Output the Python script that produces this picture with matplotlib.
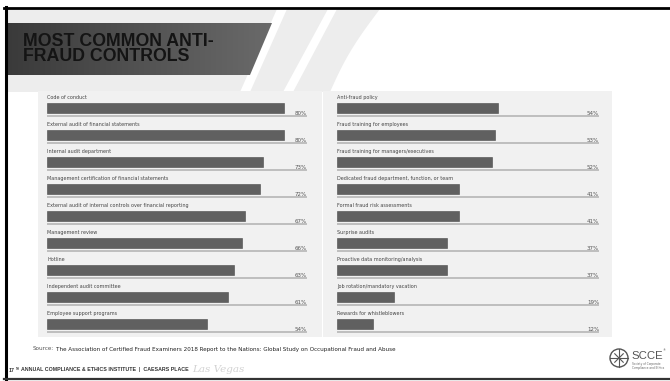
import numpy as np
import matplotlib.pyplot as plt
from matplotlib.patches import Rectangle, Polygon, Circle
from matplotlib.colors import LinearSegmentedColormap

# data
left_labels = ["Code of conduct",
               "External audit of financial statements",
               "Internal audit department",
               "Management certification of financial statements",
               "External audit of internal controls over financial reporting",
               "Management review",
               "Hotline",
               "Independent audit committee",
               "Employee support programs"]
left_values = [80, 80, 73, 72, 67, 66, 63, 61, 54]

right_labels = ["Anti-fraud policy",
                "Fraud training for employees",
                "Fraud training for managers/executives",
                "Dedicated fraud department, function, or team",
                "Formal fraud risk assessments",
                "Surprise audits",
                "Proactive data monitoring/analysis",
                "Job rotation/mandatory vacation",
                "Rewards for whistleblowers"]
right_values = [54, 53, 52, 41, 41, 37, 37, 19, 12]

title = "MOST COMMON ANTI-\nFRAUD CONTROLS"
source = ("The Association of Certified Fraud Examiners 2018 Report to the Nations: "
          "Global Study on Occupational Fraud and Abuse")

W, H = 670, 381
narrow = ['Liberation Sans Narrow', 'DejaVu Sans']
sans = ['Liberation Sans', 'DejaVu Sans']

fig = plt.figure(figsize=(W / 100, H / 100), dpi=100)
fig.patch.set_facecolor('white')

# background layer in pixel coordinates
bg = fig.add_axes([0, 0, 1, 1])
bg.set_xlim(0, W)
bg.set_ylim(H, 0)
bg.axis('off')

# light gray top area bounded by a curve on the right
t = np.linspace(0, 1, 30)
curve = [(380 - 50 * s - 4 * np.sin(np.pi * s), 9 + 83 * s) for s in t]
bg.add_patch(Polygon([(6, 9)] + curve + [(6, 92)], closed=True, color='#ededed', lw=0))
# white swooshes
for top, bot in [((277, 287), (240, 250)), ((328, 337), (283, 293))]:
    bg.add_patch(Polygon([(top[0], 9), (top[1], 9), (bot[1], 92), (bot[0], 92)],
                         closed=True, color='white', lw=0))

# title banner with a horizontal gradient
banner = Polygon([(6, 23), (272, 23), (250, 75), (6, 75)], closed=True,
                 facecolor='none', edgecolor='none')
bg.add_patch(banner)
cmap = LinearSegmentedColormap.from_list('banner', ['#3a3a3a', '#6a6a6a'])
grad = np.linspace(0, 1, 256).reshape(1, -1)
im = bg.imshow(grad, extent=(6, 272, 75, 23), cmap=cmap, aspect='auto', zorder=2)
im.set_clip_path(banner)
bg.text(23, 49, title, fontsize=12.8, fontweight='bold', color='#141414',
        family=sans, va='center', ha='left', linespacing=0.85, zorder=3)

# panel boxes
bg.add_patch(Rectangle((38, 91), 284, 246, color='#f1f1f1', lw=0))
bg.add_patch(Rectangle((323, 91), 289, 246, color='#f1f1f1', lw=0))

# source and footer
bg.text(33, 349, "Source:", fontsize=4.1, color='#555555', family=narrow, va='center')
bg.text(56, 349, source, fontsize=4.1, color='#222222', family=narrow, va='center')
bg.text(9, 370, "17", fontsize=3.8, fontweight='bold', color='#333333',
        family=sans, va='center')
bg.text(15.5, 368.6, "TH", fontsize=2.1, fontweight='bold', color='#333333',
        family=sans, va='center')
bg.text(21, 370, "ANNUAL COMPLIANCE & ETHICS INSTITUTE  |  CAESARS PLACE",
        fontsize=3.8, fontweight='bold', color='#333333', family=sans, va='center')
bg.text(192, 370, "Las Vegas", fontsize=7.5, style='italic', color='#d2d2d2',
        family=['DejaVu Serif'], va='center')

# logo
bg.add_patch(Circle((619, 358), 9, facecolor='white', edgecolor='#555555', lw=1))
for a in np.arange(0, 360, 45):
    r = 9 if a % 90 == 0 else 6
    ang = np.deg2rad(a)
    bg.plot([619, 619 + r * np.cos(ang)], [358, 358 + r * np.sin(ang)],
            color='#555555', lw=0.8)
bg.text(631, 356, "SCCE", fontsize=8.2, color='#555555', family=sans, va='center')
bg.text(663, 350, "\u00ae", fontsize=2.2, color='#555555', va='center')
bg.text(632, 366.5, "Society of Corporate\nCompliance and Ethics", fontsize=2.1,
        color='#666666', va='center', linespacing=1.0)

# slide border
bg.plot([4, W], [7.8, 7.8], color='black', lw=2)
bg.plot([5.5, 5.5], [7, 379], color='black', lw=2.2)
bg.plot([4, W], [378.6, 378.6], color='#333333', lw=1.6)


def panel(rect, labels, values, xmax):
    ax = fig.add_axes(rect)
    ax.set_xlim(0, xmax)
    ax.set_ylim(len(values), 0)
    ax.axis('off')
    for i, (lab, v) in enumerate(zip(labels, values)):
        ax.text(0, i + 0.19, lab, fontsize=3.5, color='#444444', family=narrow,
                ha='left', va='center')
        ax.barh(i + 0.59, v, height=0.37, left=0, color='#606060',
                edgecolor='#4a4a4a', linewidth=0.4)
        ax.hlines(i + 0.89, 0, xmax, color='#b0b0b0', lw=1.1)
        ax.text(xmax, i + 0.80, f"{v}%", fontsize=4.0, color='#555555', family=narrow,
                ha='right', va='center')
    return ax


def frame(x0, x1, y0, y1):
    return [x0 / W, 1 - y1 / H, (x1 - x0) / W, (y1 - y0) / H]


panel(frame(47, 307, 92, 335), left_labels, left_values, 87.8)
panel(frame(337, 599, 92, 335), right_labels, right_values, 87.9)

fig.savefig('out.png', dpi=100)
